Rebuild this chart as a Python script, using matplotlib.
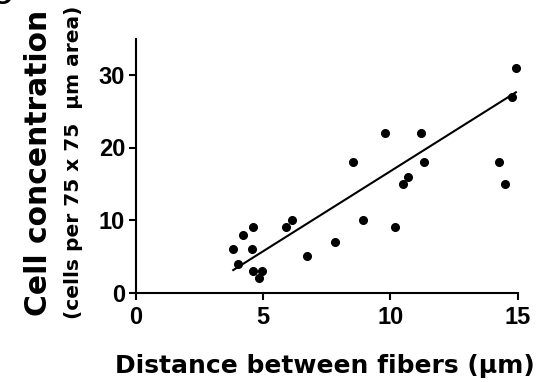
import numpy as np
import matplotlib
matplotlib.use("Agg")
import matplotlib.pyplot as plt

plt.rcParams['font.family'] = ['Liberation Sans', 'DejaVu Sans']
plt.rcParams['font.weight'] = 'bold'

distance = [3.83, 4.03, 4.23, 4.62, 4.55, 4.59, 4.95, 4.83, 5.92, 6.12, 6.71, 7.82, 8.54,
            8.91, 9.8, 10.19, 10.49, 10.69, 11.19, 11.32, 14.26, 14.5, 14.79, 14.93]
concentration = [6, 4, 8, 9, 6, 3, 3, 2, 9, 10, 5, 7, 18,
                 10, 22, 9, 15, 16, 22, 18, 18, 15, 27, 31]
fit_slope = 2.206
fit_intercept = -5.33
xticks = [0, 5, 10, 15]
yticks = [0, 10, 20, 30]

W, H = 560, 382
fig = plt.figure(figsize=(W/100, H/100), dpi=100)
ax = fig.add_axes([135.7/W, 1-292.7/H, (517.7-135.7)/W, (292.7-38.6)/H])

x = np.array(distance)
y = np.array(concentration)
xl = np.array([x.min(), x.max()])
ax.plot(xl, fit_slope*xl + fit_intercept, color='black', lw=1.5, zorder=2)
ax.plot(x, y, 'o', color='black', ms=5.5, zorder=3, clip_on=False)

ax.set_xlim(0, 15)
ax.set_ylim(0, 35)
ax.set_xticks(xticks)
ax.set_yticks(yticks)
for s in ['top', 'right']:
    ax.spines[s].set_visible(False)
for s in ['left', 'bottom']:
    ax.spines[s].set_linewidth(1.5)
ax.tick_params(width=1.5, length=4.7, labelsize=17)
ax.tick_params(axis='x', pad=5)
ax.tick_params(axis='y', pad=3)
for lab in ax.get_xticklabels() + ax.get_yticklabels():
    lab.set_fontweight('bold')
    lab.set_family('Liberation Sans')

lab_font = ['DejaVu Sans']
fig.text(325/W, 1-372.7/H, 'Distance between fibers (µm)', ha='center', va='baseline',
         fontsize=18, fontweight='bold', family=lab_font)
fig.text(46.7/W, 1-162.5/H, 'Cell concentration', ha='center', va='baseline',
         rotation=90, rotation_mode='anchor', fontsize=21.4, fontweight='bold', family=lab_font)
fig.text(79/W, 1-162.5/H, '(cells per 75 x 75  µm area)', ha='center', va='baseline',
         rotation=90, rotation_mode='anchor', fontsize=14.5, fontweight='bold', family=lab_font)

# partially visible panel letter at the top-left corner
fig.text(12/W, 1-4/H, 'C', ha='right', va='baseline', fontsize=20, fontweight='bold',
         family=['Liberation Sans'])

fig.savefig('out.png', dpi=100)
